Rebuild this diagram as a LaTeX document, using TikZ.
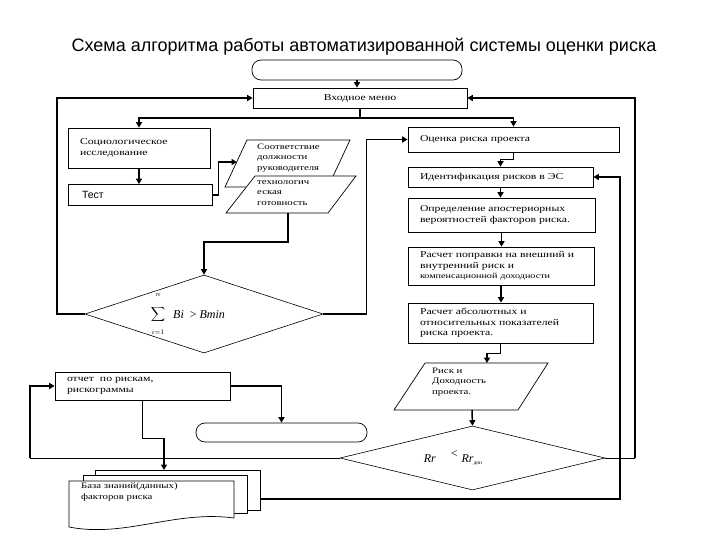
\documentclass[tikz,border=0pt]{standalone}
\usepackage{fontspec}
\setmainfont{Liberation Serif}
\newfontfamily\titlefont{Liberation Sans}
\newfontfamily\boxfont[FakeStretch=1.3]{Liberation Serif}
\usetikzlibrary{arrows.meta,shapes.geometric}
\begin{document}
\begin{tikzpicture}[x=1pt,y=-1pt,
  box/.style={draw,line width=0.7pt,fill=white,inner ysep=0pt,font=\boxfont\fontsize{9}{10.5}\selectfont},
  lbox/.style 2 args={box,text width=#1,minimum height=#2,inner xsep=12pt,align=left},
  term/.style={draw,line width=0.7pt,rounded corners=9pt},
  pshape/.style={draw,line width=0.7pt,fill=white},
  ptext/.style={font=\boxfont\fontsize{8.3}{10.5}\selectfont,align=left,anchor=west,inner sep=0pt},
  dshape/.style={draw,diamond,line width=0.6pt,inner sep=0pt},
  conn/.style={line width=1.5pt,-{Triangle[width=6pt,length=5.5pt]}},
  line/.style={line width=1.5pt}]
\useasboundingbox (0,0) rectangle (720,540);
\fill[white] (0,0) rectangle (720,540);

% title
\node[font=\titlefont\fontsize{18}{21}\selectfont,inner sep=0pt] (title) at (364,47) {Схема алгоритма работы автоматизированной системы оценки риска};

% top
\node[term,minimum width=210pt,minimum height=20pt] (start) at (357,70) {};
\node[box,minimum width=214pt,minimum height=20pt,align=center] (menu) at (360,98) {Входное меню};

% left column
\node[lbox={118pt}{40pt}] (soc) at (139,148) {Социологическое\\исследование};
\node[box,text width=116pt,minimum height=21pt,inner xsep=14pt,align=left,font=\titlefont\fontsize{10.5}{12}\selectfont] (test) at (140,195) {Тест};

% parallelograms
\draw[pshape] (247,140) -- (350,140) -- (328,187) -- (225,187) -- cycle;
\node[ptext] (par1) at (257,158) {Соответствие\\должности\\руководителя};
\draw[pshape] (255,176) -- (356,176) -- (328,213) -- (226,213) -- cycle;
\node[ptext] (par2) at (257,193) {технологич\\еская\\готовность};
\coordinate (p1in) at (237,162);
\coordinate (p2out) at (288,213);

% diamond 1
\node[dshape,minimum width=238pt,minimum height=78pt] (d1) at (204,314) {};
\node[inner sep=0pt] (d1sum) at (158,314.5) {\fontsize{12}{14}\selectfont$\displaystyle\sum$};
\node[inner sep=0pt,font=\fontsize{7}{8}\selectfont] (d1n) at (158,295) {$n$};
\node[inner sep=0pt,font=\fontsize{7}{8}\selectfont] (d1i) at (158,332) {$i{=}1$};
\node[inner sep=0pt,anchor=west,font=\fontsize{12}{14}\selectfont] (d1text) at (173,315)
  {\itshape Bi\ \ \upshape{>}\ \itshape Bmin};

% right column
\node[lbox={187pt}{25pt}] (ocenka) at (513.5,139.5) {Оценка риска проекта};
\node[lbox={161pt}{20pt}] (ident) at (500.5,177) {Идентификация рисков в ЭС};
\node[lbox={163pt}{34pt}] (opred) at (501.5,215) {Определение апостериорных\\вероятностей факторов риска.};
\node[lbox={162pt}{38pt}] (rasch1) at (501,266) {Расчет поправки на внешний и\\внутренний риск и\\{\fontsize{7.8}{10.5}\selectfont компенсационной доходности}};
\node[lbox={161pt}{40pt}] (rasch2) at (500.5,323) {Расчет абсолютных и\\относительных показателей\\риска проекта.};

% parallelogram 3
\draw[pshape] (425,363) -- (548,363) -- (518,410) -- (394,410) -- cycle;
\node[ptext] (par3) at (432,382) {Риск и\\Доходность\\проекта.};
\coordinate (p3in) at (487,363);
\coordinate (p3out) at (472,410);

% diamond 2
\node[dshape,minimum width=265pt,minimum height=64pt] (d2) at (472.5,458) {};
\node[inner sep=0pt,font=\fontsize{12}{14}\selectfont] (d2text) at (453,458)
  {\itshape Rr\hspace{15pt}\upshape\raisebox{5pt}{<}\hspace{4pt}\itshape Rr\upshape\raisebox{-2pt}{\fontsize{5.5}{6}\selectfont доп}};

% report, terminator 2
\node[lbox={151pt}{28pt}] (report) at (142.5,386) {отчет\ \ по рискам,\\рискограммы};
\node[term,minimum width=171pt,minimum height=19pt] (end) at (281.5,432.5) {};

% documents stack
\node[box,minimum width=165pt,minimum height=40pt,inner sep=0pt] (docback) at (177.5,490) {};
\node[box,minimum width=164pt,minimum height=38pt,inner sep=0pt] (docmid) at (165,494) {};
\draw[pshape] (69,481) -- (234,481) -- (234,518) .. controls (175,510) and (125,538) .. (69,527) -- cycle;
\node[ptext,anchor=north west] (docfront) at (81,483) {База знаний(данных)\\факторов риска};
\coordinate (dbtop) at (164,470);
\coordinate (dbright) at (260,499);

% helper x positions
\coordinate (lx1) at (57,0);
\coordinate (lx2) at (30,0);
\coordinate (rx1) at (620,0);
\coordinate (rx2) at (635,0);
\coordinate (br) at (360,118);

% connectors
\draw[conn] (start.south) -- (start.south |- menu.north);
\draw[conn] (d1.west) -- (d1.west -| lx1) |- (menu.west);
\draw[line width=0.8pt] (d2.east) -- (d2.east -| rx2);
\draw[conn] (d2.east -| rx2) |- (menu.east);
\draw[line] (menu.south) -- (br);
\draw[conn] (br) -| (soc.north);
\draw[conn] (br) -| (ocenka.north);
\draw[conn] (soc.south) -- (soc.south |- test.north);
\draw[conn] (test.east) -- ++(6,0) |- (p1in);
\draw[conn] (p2out) -- ++(0,29) -| (d1.north);
\draw[conn] (d1.east) -- ++(43,0) |- (ocenka.west);
\draw[conn] (ocenka.south) -- ++(0,7) -| (ident.north);
\draw[conn] (ident.south) -- (ident.south |- opred.north);
\draw[conn] (opred.south) -- (opred.south |- rasch1.north);
\draw[conn] (rasch1.south) -- (rasch1.south |- rasch2.north);
\draw[conn] (rasch2.south) -- ++(0,10) -| (p3in);
\draw[conn] (p3out) -- (d2.north);
\draw[line width=0.8pt] (d2.west) -- (d2.west -| lx2);
\draw[conn] (d2.west -| lx2) |- (report.west);
\draw[conn] (report.east) -| (end.north);
\draw[conn] (report.south) -- ++(0,38) -| (dbtop);
\draw[conn] (dbright) -- (dbright -| rx1) |- (ident.east);
\end{tikzpicture}
\end{document}
